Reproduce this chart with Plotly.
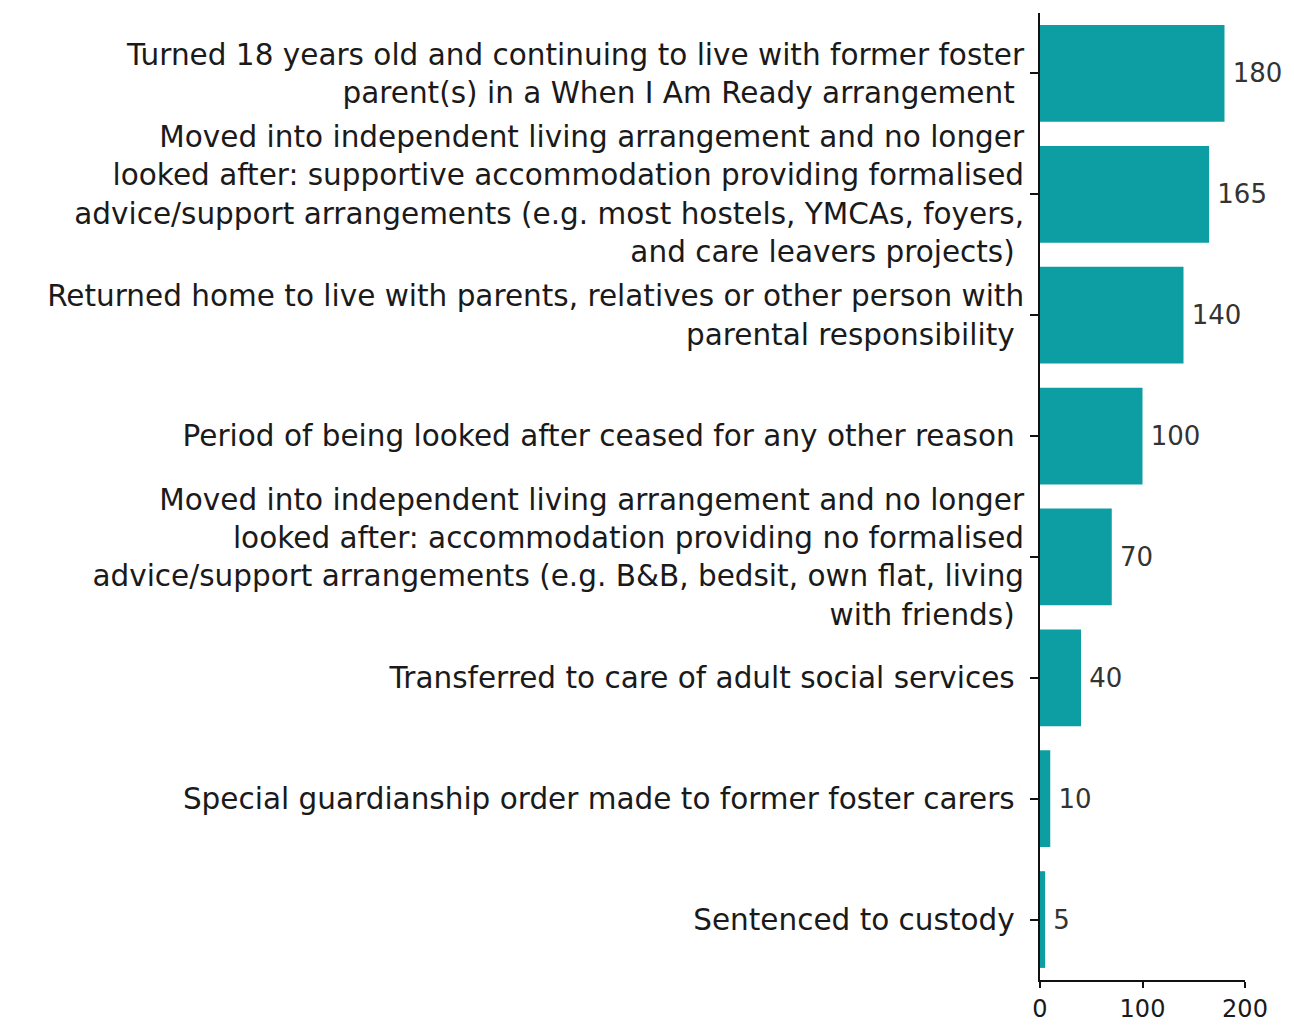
import plotly.graph_objects as go

categories = [
    "Turned 18 years old and continuing to live with former foster<br>parent(s) in a When I Am Ready arrangement ",
    "Moved into independent living arrangement and no longer<br>looked after: supportive accommodation providing formalised<br>advice/support arrangements (e.g. most hostels, YMCAs, foyers,<br>and care leavers projects) ",
    "Returned home to live with parents, relatives or other person with<br>parental responsibility ",
    "Period of being looked after ceased for any other reason ",
    "Moved into independent living arrangement and no longer<br>looked after: accommodation providing no formalised<br>advice/support arrangements (e.g. B&B, bedsit, own flat, living<br>with friends) ",
    "Transferred to care of adult social services ",
    "Special guardianship order made to former foster carers ",
    "Sentenced to custody ",
]
values = [180, 165, 140, 100, 70, 40, 10, 5]
x_ticks = [0, 100, 200]

FONT = "DejaVu Sans"

fig = go.Figure(go.Bar(
    y=categories,
    x=values,
    orientation="h",
    marker=dict(color="#0d9ea4", line=dict(width=0)),
    text=["\u2009" + str(v) for v in values],
    textposition="outside",
    constraintext="none",
    textfont=dict(family=FONT, size=26, color="#333333"),
    cliponaxis=False,
))

fig.update_layout(
    width=1286, height=1018,
    margin=dict(l=1032, r=49, t=5, b=46, autoexpand=False),
    paper_bgcolor="white", plot_bgcolor="white",
    bargap=0.2,
    showlegend=False,
    font=dict(family=FONT, size=28, color="#1a1a1a"),
)
fig.update_yaxes(
    autorange="reversed",
    automargin=False,
    showline=True, linecolor="#111111", linewidth=2,
    ticks="outside", ticklen=8, tickwidth=2, tickcolor="#111111",
    tickfont=dict(family=FONT, size=29.5, color="#1a1a1a"),
    showgrid=False,
)
fig.update_xaxes(
    range=[0, 200],
    automargin=False,
    tickvals=x_ticks,
    showline=True, linecolor="#111111", linewidth=2,
    ticks="outside", ticklen=6, tickwidth=2, tickcolor="#111111",
    tickfont=dict(family=FONT, size=24, color="#1a1a1a"),
    showgrid=False, zeroline=False,
)

fig.write_html("out.html")
